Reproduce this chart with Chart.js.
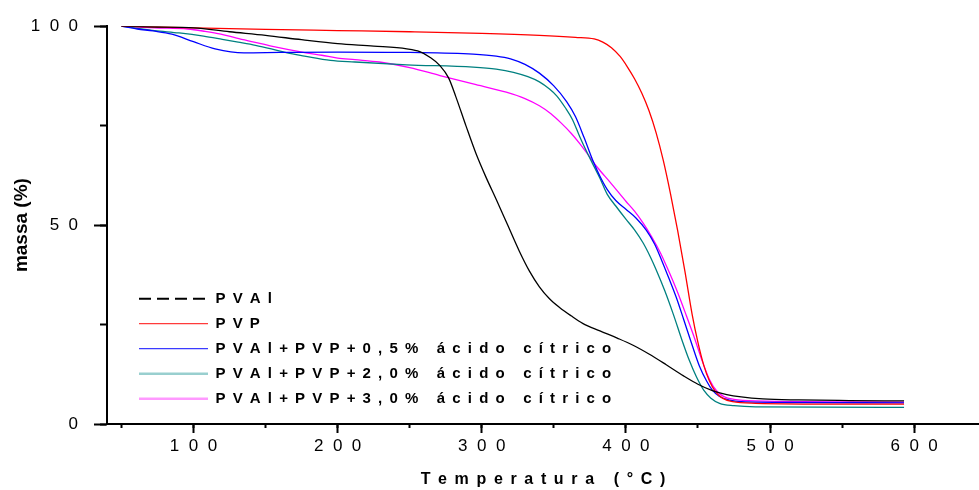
<!DOCTYPE html>
<html>
<head>
<meta charset="utf-8">
<script src="https://cdn.jsdelivr.net/npm/chart.js@4.4.1/dist/chart.umd.min.js"></script>
<style>
  html, body { margin: 0; padding: 0; background: #fff; }
  canvas { display: block; }
</style>
</head>
<body>
<canvas id="tga" width="979" height="490"></canvas>
<script>
// series names, as in the legend
const seriesNames = ['PVAl', 'PVP', 'PVAl+PVP+0,5% ácido cítrico', 'PVAl+PVP+2,0% ácido cítrico', 'PVAl+PVP+3,0% ácido cítrico'];

// TGA curves, [temperature (°C), mass (%)]
const pvalCurve = [[50,100],[75,99.8],[100,99.6],[125,98.6],[150,97.7],[175,96.6],[200,95.6],[225,95],[248,94.3],[257,93.6],[264,92.2],[271,90.1],[277,87],[282,82.3],[289,75],[296,68],[303,62],[310,56.5],[318,50],[326,43.5],[333,38.5],[340,34.5],[347,31.5],[354,29.3],[362,27.2],[370,25.3],[382,23.4],[394,21.6],[405,19.8],[416,17.6],[428,14.9],[440,12.1],[450,10],[460,8.4],[470,7.4],[480,6.8],[495,6.3],[520,6.05],[555,5.9],[593,5.8]];
const pvpCurve = [[50,100],[100,99.6],[150,99.2],[200,98.9],[250,98.6],[300,98.2],[340,97.7],[365,97.2],[378,96.8],[384,96],[390,94.6],[396,92.4],[401,89.8],[406,86.8],[411,83.2],[416,78.8],[421,73.2],[426,66.2],[431,57.8],[436,48.5],[441,38.3],[446,27.5],[450,20.5],[454,14.8],[458,10.8],[462,8.2],[467,6.5],[474,5.6],[490,5.2],[550,5],[593,5]];
const acid05Curve = [[50,100],[61,99.3],[72,98.8],[85,98],[100,96.1],[115,94.3],[135,93.3],[160,93.4],[200,93.5],[250,93.4],[294,93],[310,92.5],[320,91.8],[330,90.4],[340,88.2],[350,85],[359,81],[365,77.3],[371,72],[377,66.3],[382,62.3],[387,59],[393,56.2],[400,54],[407,51.8],[414,48.8],[420,45.2],[425,41],[430,36.5],[435,31.8],[440,26.4],[446,19.8],[451,14.6],[456,10.8],[460,8.5],[465,6.9],[472,6],[480,5.6],[520,5.4],[593,5.3]];
const acid20Curve = [[50,100],[73,98.9],[90,98.3],[107,97.5],[120,96.7],[131,96],[143,95.2],[154,94.3],[165,93.3],[177,92.5],[195,91.4],[212,91],[248,90.3],[294,89.7],[310,89.2],[322,88.4],[332,87.3],[340,86],[347,84.2],[352,82.5],[358,79.5],[363,76.5],[368,72.2],[373,68.3],[377,65.4],[382,61.8],[387,57.8],[393,54.8],[400,51.5],[406,48.8],[412,45.5],[417,42],[421,38.8],[427,33.5],[433,27.5],[439,21],[444,16],[449,11.8],[454,8.5],[459,6.5],[465,5.2],[475,4.6],[490,4.3],[593,4.2]];
const acid30Curve = [[50,100],[73,99.6],[96,99.3],[108,98.7],[119,98],[130,97],[142,96],[154,95],[166,94.1],[178,93.3],[189,92.7],[200,92],[212,91.6],[229,91],[250,89.6],[271,87.6],[294,85.5],[317,83.4],[330,81.8],[340,80],[348,78],[355,75.7],[362,73.1],[368,70.5],[374,67.6],[380,64.6],[389,60.8],[400,56],[406,53.5],[412,50.5],[418,47],[424,43],[430,38.2],[436,33],[442,27.2],[448,21.2],[453,15.8],[458,11.2],[463,8.3],[468,6.9],[475,6.2],[490,5.8],[593,5.5]];
const curves = [pvalCurve, pvpCurve, acid05Curve, acid20Curve, acid30Curve];

// axis ticks
const xMajorTicks = [100, 200, 300, 400, 500, 600];
const xMinorTicks = [50, 100, 150, 200, 250, 300, 350, 400, 450, 500, 550, 600];
const yMajorTicks = [0, 50, 100];
const yMinorTicks = [0, 25, 50, 75, 100];

const lineColors = ['#000000', '#ff0000', '#0000ff', '#008080', '#ff00ff'];
const legendColors = ['#000000', '#ff3b3b', '#3b3bff', '#99cfcf', '#ff99ff'];
const legendWidths = [2, 1.2, 1.2, 2.5, 2.5];

const FONT = 'Liberation Sans, Arial, sans-serif';

// the original figure uses very wide letter spacing
function spaced(s, gap) {
  return Array.from(String(s)).join(gap || ' \u2009');
}

function setTicks(values) {
  return function (scale) {
    scale.ticks = values.map(v => ({ value: v }));
  };
}

const datasets = curves.map((c, i) => ({
  label: seriesNames[i],
  data: c.map(p => ({ x: p[0], y: p[1] })),
  borderColor: lineColors[i],
  backgroundColor: lineColors[i],
  borderWidth: 1.3,
  pointRadius: 0,
  fill: false,
  cubicInterpolationMode: 'monotone'
}));

// put the legend in the lower left of the plot
const legendSpot = {
  id: 'legendSpot',
  afterLayout(chart) {
    const lg = chart.legend;
    const area = chart.chartArea;
    const pad = lg.options.labels.padding;
    lg.left = area.left + 32 - pad;
    lg.right = lg.left + lg.width;
    lg.top = area.top + 265 - pad;
    lg.bottom = area.bottom;
  }
};

new Chart(document.getElementById('tga'), {
  type: 'line',
  data: { datasets: datasets },
  plugins: [legendSpot],
  options: {
    responsive: false,
    animation: false,
    devicePixelRatio: 1,
    layout: { padding: { top: 26, right: 0, bottom: 0, left: 0 } },
    plugins: {
      tooltip: { enabled: false },
      legend: {
        position: 'chartArea',
        align: 'start',
        labels: {
          boxWidth: 69,
          boxHeight: 0,
          padding: 10,
          color: '#000',
          font: { family: FONT, size: 15, weight: 'bold' },
          generateLabels(chart) {
            const items = Chart.defaults.plugins.legend.labels.generateLabels(chart);
            items.forEach((it, i) => {
              it.text = spaced(it.text);
              it.strokeStyle = legendColors[i];
              it.lineWidth = legendWidths[i];
              it.lineDash = i === 0 ? [10, 8] : [];
            });
            return items;
          }
        }
      }
    },
    scales: {
      x: {
        type: 'linear',
        position: 'bottom',
        weight: 1,
        min: 40,
        max: 645,
        afterBuildTicks: setTicks(xMajorTicks),
        afterFit(scale) { scale.height = 66; },
        border: { display: true, color: '#000', width: 2 },
        grid: { drawOnChartArea: false, drawTicks: true, tickLength: 9, tickWidth: 2, tickColor: '#000' },
        ticks: {
          autoSkip: false,
          maxRotation: 0,
          padding: 3,
          color: '#000',
          font: { family: FONT, size: 17 },
          callback: v => spaced(v, '  ')
        },
        title: {
          display: true,
          text: spaced('Temperatura (°C)'),
          color: '#000',
          font: { family: FONT, size: 16, weight: 'bold' },
          padding: { top: 0, bottom: 1 }
        }
      },
      x2: {
        type: 'linear',
        position: 'bottom',
        weight: 0,
        min: 40,
        max: 645,
        afterBuildTicks: setTicks(xMinorTicks),
        afterFit(scale) { scale.height = 0; },
        border: { display: false },
        grid: { drawOnChartArea: false, drawTicks: true, tickLength: 4, tickWidth: 2, tickColor: '#000' },
        ticks: { display: false }
      },
      y: {
        type: 'linear',
        position: 'left',
        weight: 1,
        min: 0,
        max: 100,
        afterBuildTicks: setTicks(yMajorTicks),
        afterFit(scale) { scale.width = 107; },
        border: { display: true, color: '#000', width: 2 },
        grid: { drawOnChartArea: false, drawTicks: true, tickLength: 13, tickWidth: 2, tickColor: '#000' },
        ticks: {
          padding: 16,
          color: '#000',
          font: { family: FONT, size: 17 },
          callback: v => spaced(v, '  ')
        },
        title: {
          display: true,
          text: 'massa (%)',
          color: '#000',
          font: { family: FONT, size: 19, weight: 'bold' },
          padding: { top: 10, bottom: 0 }
        }
      },
      y2: {
        type: 'linear',
        position: 'left',
        weight: 0,
        min: 0,
        max: 100,
        afterBuildTicks: setTicks(yMinorTicks),
        afterFit(scale) { scale.width = 0; },
        border: { display: false },
        grid: { drawOnChartArea: false, drawTicks: true, tickLength: 7, tickWidth: 2, tickColor: '#000' },
        ticks: { display: false }
      }
    }
  }
});
</script>
</body>
</html>
